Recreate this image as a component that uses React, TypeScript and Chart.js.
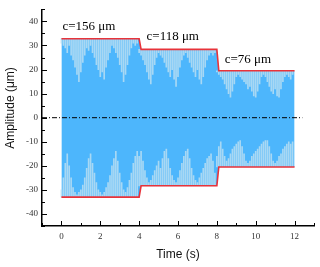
import { useEffect, useRef } from 'react';
import { Chart, registerables } from 'chart.js';
Chart.register(...registerables);

// Envelope (red line) of the amplitude signal
const envTimes = [0, 4, 4.1, 8, 8.1, 12];
const upperEnv = [32.8, 32.8, 28.4, 28.4, 19.5, 19.5];
const lowerEnv = [-33, -33, -28.3, -28.3, -20.5, -20.5];

// Per-segment envelope (segments 0-4 s, 4-8 s, 8-12 s)
const segUpper = [32.8, 28.4, 19.5];
const segLower = [-33, -28.3, -20.5];
const samplesPerSegment = 40;
const sampleStep = 0.1; // s

// Tips of the pale oscillation spikes hanging from the upper envelope (t = 0.0 ... 11.9 s)
const spikeTop = [
  31, 30, 29, 27, 30, 26, 24, 21, 18, 15, 19, 23, 26, 29, 28, 30, 27, 25, 22, 20,
  17, 19, 16, 21, 24, 27, 30, 29, 27, 25, 22, 19, 15, 18, 22, 26, 29, 31, 30, 31,
  27, 26, 24, 22, 19, 16, 14, 18, 22, 25, 27, 26, 25, 23, 21, 19, 17, 20, 16, 13,
  17, 21, 24, 26, 27, 25, 23, 21, 19, 17, 20, 16, 14, 17, 21, 24, 26, 27, 26, 27,
  19, 18, 17, 16, 14, 12, 10, 8.5, 11, 14, 17, 18, 17, 16, 15, 14, 12, 13, 11, 9,
  8.5, 11, 14, 17, 18, 17, 15, 13, 11, 10, 12, 9, 8.5, 12, 15, 17, 18, 17, 16, 18,
];
// Tips of the pale spikes rising from the lower envelope
const spikeBottom = [
  -30, -25, -19, -15, -20, -25, -29, -31, -32, -31, -30, -28, -25, -21, -17, -15, -19, -23, -27, -30,
  -31, -32, -31, -29, -27, -24, -20, -17, -14, -18, -23, -27, -30, -31, -29, -26, -23, -19, -16, -14,
  -16, -14, -18, -22, -25, -27, -26, -24, -22, -20, -18, -21, -17, -14, -13, -17, -21, -24, -26, -27,
  -25, -22, -19, -16, -14, -13, -17, -21, -24, -26, -27, -25, -23, -21, -19, -17, -16, -15, -18, -23,
  -16, -12, -10, -13, -16, -18, -17, -15, -13, -12, -11, -10, -9.5, -12, -15, -18, -19, -18, -16, -15,
  -14, -13, -12, -11, -10, -9.5, -9.5, -12, -15, -18, -19, -18, -16, -15, -13, -12, -11, -10, -11, -10,
];

const xMajorTicks = [0, 2, 4, 6, 8, 10, 12];
const xMinorTicks = [-1, 1, 3, 5, 7, 9, 11, 13];
const yMajorTicks = [-40, -30, -20, -10, 0, 10, 20, 30, 40];
const yMinorTicks = [-45, -35, -25, -15, -5, 5, 15, 25, 35, 45];

const annotations = [
  { text: 'c=156 μm', x: 0.05, y: 37.9 },
  { text: 'c=118 μm', x: 4.38, y: 33.8 },
  { text: 'c=76 μm', x: 8.4, y: 24.3 },
];

const BLUE = '#4db6fc';
const PALE = 'rgba(185,222,242,0.85)';
const RED = '#e8333a';

export default function App() {
  const ref = useRef<HTMLCanvasElement | null>(null);
  useEffect(() => {
    document.body.style.margin = '0';
    const seg = (i: number) => Math.min(2, Math.floor(i / samplesPerSegment));
    const topBars = spikeTop.map((v, i) => ({ x: i * sampleStep, y: [v, segUpper[seg(i)]] }));
    const botBars = spikeBottom.map((v, i) => ({ x: i * sampleStep, y: [segLower[seg(i)], v] }));
    const up = envTimes.map((t, i) => ({ x: t, y: upperEnv[i] }));
    const lo = envTimes.map((t, i) => ({ x: t, y: lowerEnv[i] }));

    const decor = {
      id: 'decor',
      afterDraw(chart: any) {
        const { ctx, scales, chartArea } = chart;
        const x = scales.x, y = scales.y;
        ctx.save();
        ctx.strokeStyle = '#000';
        ctx.lineWidth = 1;
        ctx.beginPath();
        for (const v of xMajorTicks) {
          const p = Math.round(x.getPixelForValue(v)) + 0.5;
          ctx.moveTo(p, chartArea.bottom); ctx.lineTo(p, chartArea.bottom - 5);
        }
        for (const v of xMinorTicks) {
          const p = Math.round(x.getPixelForValue(v)) + 0.5;
          ctx.moveTo(p, chartArea.bottom); ctx.lineTo(p, chartArea.bottom - 3);
        }
        for (const v of yMajorTicks) {
          const p = Math.round(y.getPixelForValue(v)) + 0.5;
          ctx.moveTo(chartArea.left, p); ctx.lineTo(chartArea.left + 5, p);
        }
        for (const v of yMinorTicks) {
          const p = Math.round(y.getPixelForValue(v)) + 0.5;
          ctx.moveTo(chartArea.left, p); ctx.lineTo(chartArea.left + 3, p);
        }
        ctx.stroke();

        ctx.fillStyle = '#000';
        ctx.font = '13px "Liberation Serif"';
        ctx.textAlign = 'left';
        ctx.textBaseline = 'middle';
        for (const a of annotations) {
          ctx.fillText(a.text, x.getPixelForValue(a.x), y.getPixelForValue(a.y));
        }

        ctx.font = '12px "Liberation Sans"';
        ctx.textAlign = 'center';
        ctx.fillStyle = '#111';
        ctx.fillText('Time (s)', (chartArea.left + chartArea.right) / 2, 255);
        ctx.translate(11, 108);
        ctx.rotate(-Math.PI / 2);
        ctx.fillText('Amplitude (μm)', 0, 0);
        ctx.restore();
      },
    };

    const chart = new Chart(ref.current!, {
      type: 'line',
      data: {
        datasets: [
          { data: up, borderWidth: 0, pointRadius: 0, fill: '+1', backgroundColor: BLUE, order: 3 } as any,
          { data: lo, borderWidth: 0, pointRadius: 0, fill: false, order: 3 } as any,
          { type: 'bar', data: topBars, backgroundColor: PALE, barThickness: 1, grouped: false, order: 2 } as any,
          { type: 'bar', data: botBars, backgroundColor: PALE, barThickness: 1, grouped: false, order: 2 } as any,
          { data: up, borderColor: RED, borderWidth: 1.6, pointRadius: 0, fill: false, order: 1 } as any,
          { data: lo, borderColor: RED, borderWidth: 1.6, pointRadius: 0, fill: false, order: 1 } as any,
          {
            data: [{ x: -1, y: 0 }, { x: 12.4, y: 0 }],
            borderColor: '#000', borderWidth: 1, borderDash: [5, 2, 1, 2],
            pointRadius: 0, fill: false, order: 0,
          } as any,
        ],
      },
      options: {
        animation: false,
        responsive: true,
        maintainAspectRatio: false,
        layout: { padding: { left: 0, right: 6, top: 8, bottom: 0 } },
        plugins: { legend: { display: false }, tooltip: { enabled: false } },
        scales: {
          x: {
            type: 'linear', min: -1, max: 13, offset: false,
            grid: { display: false, drawTicks: false },
            border: { display: true, color: '#000', width: 1.5 },
            afterBuildTicks: (s: any) => { s.ticks = xMajorTicks.map((v) => ({ value: v })); },
            afterFit: (s: any) => { s.height = 41; },
            ticks: { padding: 5, color: '#333', font: { family: '"Liberation Serif"', size: 9 }, maxRotation: 0, autoSkip: false },
          },
          y: {
            type: 'linear', min: -45, max: 45,
            grid: { display: false, drawTicks: false },
            border: { display: true, color: '#000', width: 1.5 },
            afterBuildTicks: (s: any) => { s.ticks = yMajorTicks.map((v) => ({ value: v })); },
            afterFit: (s: any) => { s.width = 42; },
            ticks: { padding: 4, color: '#333', font: { family: '"Liberation Serif"', size: 9 }, autoSkip: false },
          },
        },
      } as any,
      plugins: [decor],
    });
    return () => chart.destroy();
  }, []);
  return (
    <div style={{ position: 'fixed', left: 0, top: 0, width: 320, height: 267, background: '#fff' }}>
      <canvas ref={ref} />
    </div>
  );
}
